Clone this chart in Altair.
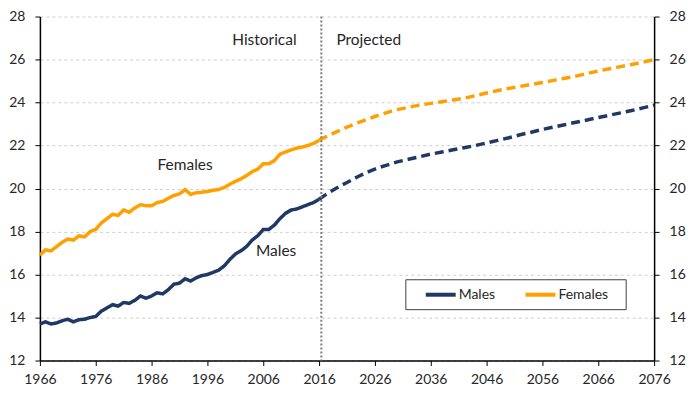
import altair as alt
import pandas as pd

hist_years = list(range(1966, 2017))
males_hist = [13.7, 13.8, 13.7, 13.75, 13.85, 13.92, 13.8, 13.9, 13.92, 14.0,
              14.05, 14.3, 14.45, 14.6, 14.53, 14.7, 14.66, 14.8, 15.0, 14.9,
              15.0, 15.15, 15.1, 15.3, 15.55, 15.6, 15.8, 15.7, 15.85, 15.95,
              16.0, 16.1, 16.2, 16.4, 16.7, 16.95, 17.1, 17.3, 17.6, 17.8,
              18.1, 18.1, 18.3, 18.6, 18.85, 19.0, 19.05, 19.15, 19.25, 19.35,
              19.5]
females_hist = [16.9, 17.15, 17.1, 17.3, 17.5, 17.65, 17.6, 17.8, 17.75, 18.0,
                18.1, 18.4, 18.6, 18.8, 18.75, 19.0, 18.9, 19.1, 19.25, 19.2,
                19.2, 19.35, 19.4, 19.55, 19.68, 19.75, 19.95, 19.73, 19.8, 19.83,
                19.86, 19.92, 19.95, 20.05, 20.2, 20.33, 20.45, 20.6, 20.78, 20.9,
                21.15, 21.15, 21.3, 21.6, 21.7, 21.8, 21.88, 21.93, 22.0, 22.1,
                22.25]

proj_years = [2016, 2017, 2018, 2019, 2020, 2021, 2022, 2023, 2024, 2025,
              2026, 2027, 2028, 2029, 2030, 2032, 2034, 2036, 2038, 2040,
              2042, 2044, 2046, 2048, 2050, 2052, 2054, 2056, 2058, 2060,
              2062, 2064, 2066, 2068, 2070, 2072, 2074, 2076]
males_proj = [19.5, 19.68, 19.85, 20.0, 20.15, 20.28, 20.42, 20.56, 20.68, 20.8,
              20.9, 21.0, 21.08, 21.16, 21.24, 21.36, 21.48, 21.6, 21.7, 21.8,
              21.9, 22.0, 22.12, 22.24, 22.36, 22.5, 22.62, 22.75, 22.86, 22.97,
              23.08, 23.19, 23.3, 23.41, 23.52, 23.63, 23.75, 23.88]
females_proj = [22.25, 22.38, 22.5, 22.62, 22.74, 22.86, 22.96, 23.06, 23.16, 23.26,
                23.35, 23.44, 23.52, 23.6, 23.67, 23.78, 23.88, 23.96, 24.04, 24.12,
                24.2, 24.32, 24.44, 24.56, 24.66, 24.75, 24.84, 24.93, 25.03, 25.13,
                25.23, 25.35, 25.47, 25.57, 25.67, 25.77, 25.88, 26.0]

series_names = ["Males", "Females"]
series_colors = ["#1F3864", "#FFA000"]
periods = ["Historical", "Projected"]
divider_year = [2016.4]

rows = []
for y, m, f in zip(hist_years, males_hist, females_hist):
    rows.append({"year": y, "value": m, "series": "Males", "period": "Historical"})
    rows.append({"year": y, "value": f, "series": "Females", "period": "Historical"})
for y, m, f in zip(proj_years, males_proj, females_proj):
    rows.append({"year": y, "value": m, "series": "Males", "period": "Projected"})
    rows.append({"year": y, "value": f, "series": "Females", "period": "Projected"})
df = pd.DataFrame(rows)

FONT = "Lato"
TXT = "#262626"

xscale = alt.Scale(domain=[1966, 2076], nice=False, zero=False)
yscale = alt.Scale(domain=[12, 28], nice=False, zero=False)

xaxis = alt.Axis(values=list(range(1966, 2077, 5)), format="d",
                 labelExpr="datum.value % 10 == 6 ? datum.label : ''",
                 title=None, grid=False, domainColor="black", domainWidth=1.5,
                 tickColor="black", tickSize=5, labelFlush=False, labelOverlap=False,
                 labelFont=FONT, labelFontSize=14, labelColor=TXT, labelPadding=7)

yvals = list(range(12, 29, 2))

# legend frame (decoration)
legend_box = alt.Chart(pd.DataFrame({"k": [0]})).mark_rect(
    fill="white", stroke="#404040", strokeWidth=1
).encode(
    x=alt.value(367), x2=alt.value(588), y=alt.value(264), y2=alt.value(294)
)

lines = alt.Chart(df).mark_line(strokeWidth=3.5).encode(
    x=alt.X("year:Q", scale=xscale, axis=xaxis),
    y=alt.Y("value:Q", scale=yscale,
            axis=alt.Axis(values=yvals, title=None, grid=True, gridDash=[3, 3],
                          gridColor="#cfcfcf", gridWidth=1, domainColor="black",
                          domainWidth=1.5, tickColor="black", tickSize=5,
                          labelFont=FONT, labelFontSize=14, labelColor=TXT,
                          labelPadding=10)),
    color=alt.Color("series:N",
                    scale=alt.Scale(domain=series_names, range=series_colors),
                    legend=alt.Legend(orient="none", legendX=385, legendY=262,
                                      direction="horizontal", title=None,
                                      padding=0,
                                      symbolType="stroke", symbolStrokeWidth=4,
                                      symbolSize=900,
                                      labelFont=FONT, labelFontSize=14,
                                      labelColor=TXT, columnPadding=22,
                                      labelOffset=1)),
    strokeDash=alt.StrokeDash("period:N",
                              scale=alt.Scale(domain=periods, range=[[1, 0], [9, 5]]),
                              legend=None),
)

right_axis = alt.Chart(df).mark_line(opacity=0).encode(
    x=alt.X("year:Q", scale=xscale),
    y=alt.Y("value:Q", scale=yscale,
            axis=alt.Axis(orient="right", values=yvals, title=None, grid=False,
                          domainColor="black", domainWidth=1.5, tickColor="black",
                          tickSize=5, labelFont=FONT, labelFontSize=14,
                          labelColor=TXT, labelPadding=10)),
    detail="series:N",
)

divider = alt.Chart(pd.DataFrame({"x": divider_year})).mark_rule(
    color="#7f7f7f", strokeWidth=2, strokeDash=[2, 2]
).encode(x=alt.X("x:Q", scale=xscale))

def label(text, xv, yv):
    return alt.Chart(pd.DataFrame({"t": [text]})).mark_text(
        font=FONT, fontSize=15.5, color=TXT, align="center", baseline="middle"
    ).encode(
        x=alt.X(datum=xv, scale=xscale),
        y=alt.Y(datum=yv, scale=yscale, axis=None),
        text="t:N",
    )

chart = alt.layer(
    legend_box, lines, right_axis, divider,
    label("Historical", 2006.2, 26.93),
    label("Projected", 2024.9, 26.93),
    label("Females", 1992.0, 21.09),
    label("Males", 2008.3, 17.1),
).resolve_axis(y="independent").properties(
    width=616, height=345, autosize="none",
    padding={"left": 32, "top": 8, "right": 36, "bottom": 30},
).configure_view(stroke=None)

chart.save("out.html", embed_options={"renderer": "svg", "actions": False})
